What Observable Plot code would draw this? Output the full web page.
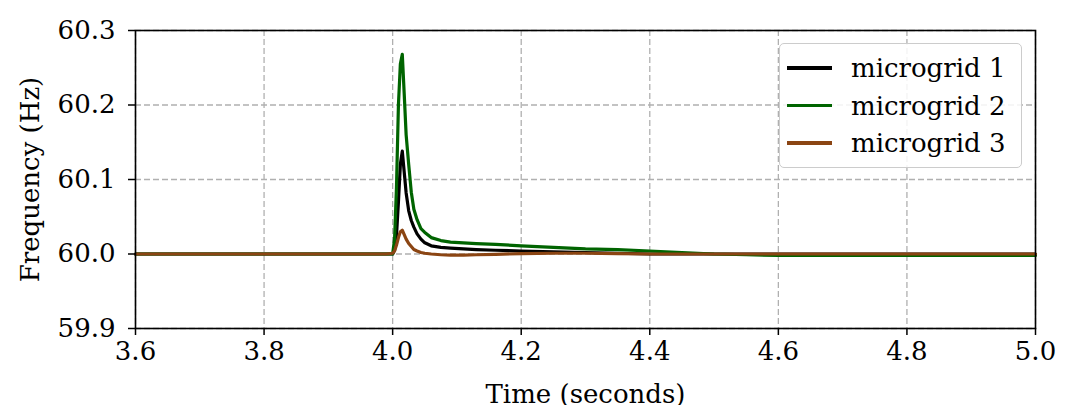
<!DOCTYPE html>
<html>
<head>
<meta charset="utf-8">
<script src="https://cdn.jsdelivr.net/npm/d3@7"></script>
<script src="https://cdn.jsdelivr.net/npm/@observablehq/plot@0.6"></script>
<style>
  html, body { margin: 0; padding: 0; background: #fff; }
  #wrap { position: relative; width: 1076px; height: 405px; overflow: hidden; font-family: "DejaVu Serif", serif; }
  #legend { position: absolute; left: 779px; top: 43px; width: 243px; height: 125px;
    border: 1.5px solid #cccccc; border-radius: 5px; background: rgba(255,255,255,0.85); box-sizing: border-box; }
  .row { position: absolute; left: 0; height: 30px; display: flex; align-items: center; }
  .sw { width: 45px; height: 3.2px; margin-left: 7px; margin-right: 19px; }
  .lab { font-size: 26px; color: #000; white-space: nowrap; }
</style>
</head>
<body>
<div id="wrap"><div id="chart"></div><div id="legend"></div></div>
<script>
// ---- data ----
const time = [3.6, 3.99, 4.0, 4.003, 4.006, 4.009, 4.012, 4.015, 4.018, 4.021, 4.025, 4.029, 4.033, 4.038, 4.044, 4.05, 4.06, 4.075, 4.09, 4.11, 4.13, 4.16, 4.2, 4.25, 4.3, 4.35, 4.4, 4.45, 4.5, 4.55, 4.6, 4.7, 4.8, 4.9, 5.0];
const mg1 = [60.0, 60.0, 60.0, 60.005, 60.025, 60.07, 60.12, 60.138, 60.11, 60.082, 60.058, 60.045, 60.036, 60.027, 60.02, 60.015, 60.011, 60.009, 60.008, 60.007, 60.006, 60.005, 60.004, 60.003, 60.002, 60.001, 60.0, 60.0, 60.0, 60.0, 60.0, 60.0, 60.0, 60.0, 60.0];
const mg2 = [60.0, 60.0, 60.0, 60.02, 60.09, 60.2, 60.255, 60.268, 60.215, 60.16, 60.12, 60.083, 60.06, 60.046, 60.034, 60.029, 60.022, 60.018, 60.016, 60.015, 60.014, 60.013, 60.011, 60.009, 60.007, 60.006, 60.004, 60.002, 60.0, 59.999, 59.998, 59.998, 59.998, 59.998, 59.998];
const mg3 = [60.0, 60.0, 60.001, 60.004, 60.012, 60.022, 60.03, 60.032, 60.026, 60.02, 60.014, 60.01, 60.006, 60.004, 60.002, 60.001, 60.0, 59.999, 59.9985, 59.9985, 59.999, 59.9995, 60.0005, 60.001, 60.001, 60.0005, 60.0, 60.0, 60.0, 60.0, 60.0, 60.0, 60.0, 60.0, 60.0];
const seriesNames = ["microgrid 1", "microgrid 2", "microgrid 3"];
const seriesColors = ["#000000", "#006400", "#8b4513"];
const xTicks = [3.6, 3.8, 4.0, 4.2, 4.4, 4.6, 4.8, 5.0];
const yTicks = [59.9, 60.0, 60.1, 60.2, 60.3];

const seriesValues = [mg1, mg2, mg3];
const rows = [];
seriesValues.forEach((vals, i) => vals.forEach((v, j) => rows.push({series: seriesNames[i], t: time[j], f: v})));

const fmt = d3.format(".1f");
const chart = Plot.plot({
  width: 1076,
  height: 405,
  marginLeft: 135,
  marginRight: 41,
  marginTop: 30,
  marginBottom: 77,
  style: {fontFamily: "DejaVu Serif", fontSize: "26px", background: "#fff", color: "#000"},
  x: {domain: [3.6, 5.0]},
  y: {domain: [59.9, 60.3]},
  color: {domain: seriesNames, range: seriesColors},
  marks: [
    Plot.gridX(xTicks, {stroke: "#b0b0b0", strokeOpacity: 1, strokeWidth: 1.3, strokeDasharray: "6,3"}),
    Plot.gridY(yTicks, {stroke: "#b0b0b0", strokeOpacity: 1, strokeWidth: 1.3, strokeDasharray: "6,3"}),
    Plot.line(rows, {x: "t", y: "f", z: "series", stroke: "series", strokeWidth: 3.2, strokeLinejoin: "round", curve: "linear"}),
    Plot.frame({stroke: "#000", strokeWidth: 1.6}),
    Plot.axisX(xTicks, {tickFormat: fmt, tickSize: 7, tickPadding: 6, strokeWidth: 1.5, fontSize: 26,
      label: "Time (seconds)", labelAnchor: "center", labelArrow: "none", labelOffset: 74}),
    Plot.axisY(yTicks, {tickFormat: fmt, tickSize: 7, tickPadding: 13, strokeWidth: 1.5, fontSize: 26,
      label: "Frequency (Hz)", labelAnchor: "center", labelArrow: "none", labelOffset: 115})
  ]
});
document.getElementById("chart").appendChild(chart);

const legend = document.getElementById("legend");
seriesNames.forEach((name, i) => {
  const row = document.createElement("div");
  row.className = "row";
  row.style.top = (9 + i * 37.5) + "px";
  const sw = document.createElement("div");
  sw.className = "sw";
  sw.style.background = seriesColors[i];
  const lab = document.createElement("span");
  lab.className = "lab";
  lab.textContent = name;
  row.appendChild(sw);
  row.appendChild(lab);
  legend.appendChild(row);
});
</script>
</body>
</html>
